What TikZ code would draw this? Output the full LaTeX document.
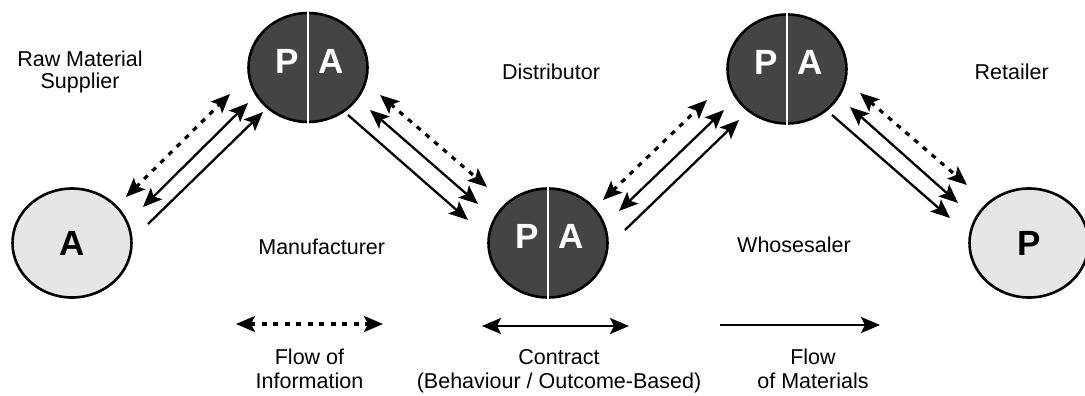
\documentclass[tikz,border=0pt]{standalone}
\usepackage{fontspec}
\setmainfont{Liberation Sans}
\usetikzlibrary{shapes.geometric,arrows.meta}
\definecolor{darkdisc}{HTML}{444444}
\definecolor{lightdisc}{HTML}{E6E6E6}
\begin{document}
\begin{tikzpicture}[x=1pt,y=-1pt,
  disc/.style={ellipse, draw=black, line width=2.6pt,
    minimum width=119pt, minimum height=109pt, inner sep=0pt},
  pdisc/.style={disc, fill=darkdisc},
  edisc/.style={disc, fill=lightdisc, font=\fontsize{35}{35}\selectfont\bfseries},
  pasign/.style={font=\fontsize{35}{35}\selectfont\bfseries, text=white, inner sep=0pt},
  divider/.style={white, line width=2pt, shorten <=-1.3pt, shorten >=-1.3pt},
  tagtext/.style={font=\fontsize{21.5}{22}\selectfont, align=center, anchor=base, inner sep=0pt},
  legtext/.style={tagtext, font=\fontsize{21.5}{24.3}\selectfont},
  head/.tip={Stealth[length=19pt,width=16pt,inset=4pt]},
  matflow/.style={line width=2.3pt, -head},
  contract/.style={line width=2.3pt, head-head},
  infoflow/.style={line width=3.2pt, dash pattern=on 5pt off 6.5pt, head-head},
]
\useasboundingbox (0,0) rectangle (1085,396);

% actors of the chain
\node[edisc] (sup) at (72,243) {A};
\node[pdisc] (man) at (308,67.5) {};
\node[pdisc] (dis) at (548,243) {};
\node[pdisc] (who) at (787,69) {};
\node[edisc] (ret) at (1029,243) {P};

% principal / agent halves
\foreach \n in {man,dis,who}{
  \draw[divider] (\n.north) -- (\n.south);
  \node[pasign] (\n-p) at ([shift={(-21,-6.5)}]\n.center) {P};
  \node[pasign] (\n-a) at ([shift={(23,-6.5)}]\n.center) {A};
}

% role names (base = baseline of the last line)
\node[tagtext] (tsup) at (80,88.7) {Raw Material\\Supplier};
\node[tagtext] (tman) at (321.7,254) {Manufacturer};
\node[tagtext] (tdis) at (551,79.3) {Distributor};
\node[tagtext] (twho) at (794,252.7) {Whosesaler};
\node[tagtext] (tret) at (1011.7,80) {Retailer};

% supplier -- manufacturer
\coordinate (i1a) at (126,197); \coordinate (i1b) at (230,94);
\coordinate (c1a) at (143,207); \coordinate (c1b) at (248,103);
\coordinate (m1a) at (148,224); \coordinate (m1b) at (263,112);
% manufacturer -- distributor
\coordinate (i2a) at (380,95);  \coordinate (i2b) at (487,187);
\coordinate (c2a) at (370,110); \coordinate (c2b) at (478,204);
\coordinate (m2a) at (348,115); \coordinate (m2b) at (468,220);
% distributor -- wholesaler
\coordinate (i3a) at (603,200); \coordinate (i3b) at (707,100);
\coordinate (c3a) at (619,211); \coordinate (c3b) at (724,110);
\coordinate (m3a) at (625,230); \coordinate (m3b) at (739,120);
% wholesaler -- retailer
\coordinate (i4a) at (860,93);  \coordinate (i4b) at (967,185);
\coordinate (c4a) at (850,107); \coordinate (c4b) at (958,203);
\coordinate (m4a) at (832,115); \coordinate (m4b) at (950,218);

\foreach \k in {1,2,3,4}{
  \draw[infoflow] (i\k a) -- (i\k b);
  \draw[contract] (c\k a) -- (c\k b);
  \draw[matflow]  (m\k a) -- (m\k b);
}

% legend
\coordinate (li-a) at (236,324); \coordinate (li-b) at (383,324);
\coordinate (lc-a) at (482,326); \coordinate (lc-b) at (629,326);
\coordinate (lm-a) at (720,325); \coordinate (lm-b) at (880,325);
\draw[infoflow] (li-a) -- (li-b);
\draw[contract] (lc-a) -- (lc-b);
\draw[matflow]  (lm-a) -- (lm-b);

\node[legtext] (tinfo) at (309.5,388.3) {Flow of\\Information};
\node[legtext] (tcon)  at (559,388.3) {Contract\\(Behaviour / Outcome-Based)};
\node[legtext] (tmat)  at (813,388.3) {Flow\\of Materials};
\end{tikzpicture}
\end{document}
